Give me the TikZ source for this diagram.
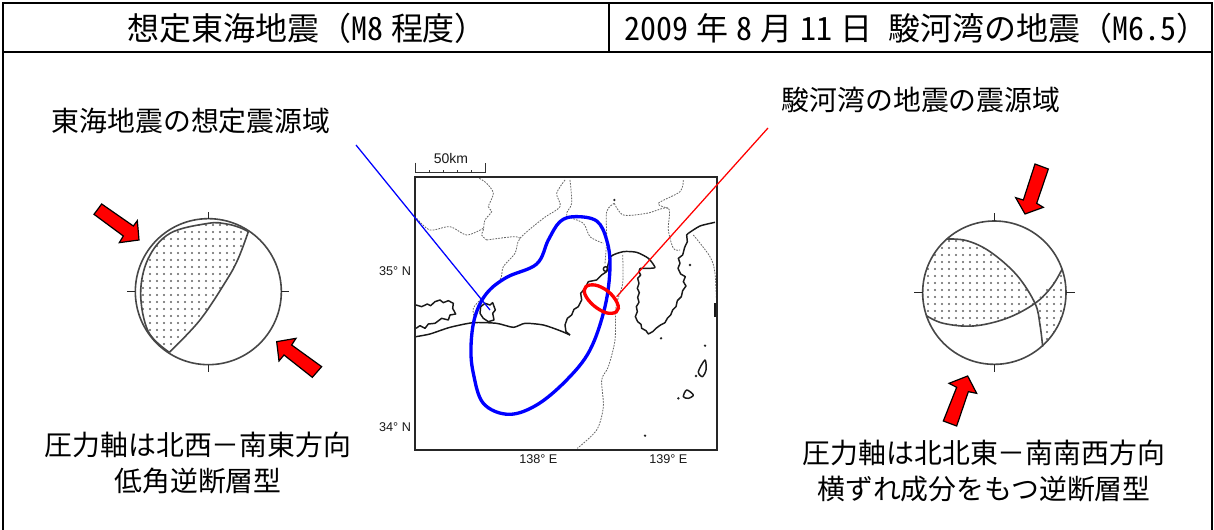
\documentclass[tikz,border=0pt]{standalone}
\usepackage{fontspec}
\setmainfont{Noto Sans CJK JP}
\newfontfamily\hw[RawFeature=+hwid]{Noto Sans CJK JP}
\newfontfamily\mapfont{Liberation Sans}
\newcommand{\gap}{\hspace{0.25em}}
\newcommand{\dotfield}[4]{\foreach \xx in {#1,...,#2}{\foreach \yy in {#3,...,#4}{\fill[dotgray] (\xx*21,\yy*21) circle (3.1);}}}
\definecolor{dotgray}{gray}{0.38}
\tikzset{
  px/.style={x=0.75pt,y=-0.75pt},
  zoomA/.style={shift={(340,140)},x=0.25pt,y=-0.25pt},
  frameline/.style={draw=black,line width=1.7pt},
  headtext/.style={font=\fontsize{24}{28}\selectfont,inner sep=0pt},
  bodytext/.style={font=\fontsize{20.9}{26.6}\selectfont,inner sep=0pt,align=center},
  maplabel/.style={font=\mapfont\fontsize{9.5}{10}\selectfont,inner sep=0pt,text=black!90},
  border/.style={draw=black!60,line width=0.6pt,dash pattern=on 1.3pt off 0.9pt},
  coast/.style={draw=black!90,line width=1.1pt,line join=round},
  ballline/.style={draw=black!72,line width=1.2pt},
  tick/.style={draw=black!85,line width=1.1pt},
  pressarrow/.style={draw=black,fill=red,line width=0.9pt,line join=miter},
  zone/.style={line width=2.5pt},
}
\begin{document}
\begin{tikzpicture}[px]
\useasboundingbox (0,0) rectangle (1214,530);
\fill[white] (0,0) rectangle (1214,530);
% frame
\draw[frameline] (3,530) -- (3,3) -- (1212,3) -- (1212,530);
\draw[frameline] (3,52) -- (1212,52);
\draw[frameline] (609,3) -- (609,52);
% headings
\node[headtext] (headL) at (307,28) {想定東海地震（{\hw M8}\gap 程度）};
\node[headtext] (headR) at (916,28) {{\hw 2009}\gap 年\gap{\hw 8}\gap 月\gap{\hw 11}\gap 日\gap\gap 駿河湾の地震（{\hw M6.5}）};
\node[bodytext] (tokai) at (191,121) {東海地震の想定震源域};
\node[bodytext] (suruga) at (921,100) {駿河湾の地震の震源域};
\node[bodytext] (captL) at (198,463) {圧力軸は北西－南東方向\\低角逆断層型};
\node[bodytext] (captR) at (984,471) {圧力軸は北北東－南南西方向\\横ずれ成分をもつ逆断層型};

% map
\begin{scope}[zoomA]
  \node[maplabel,font=\mapfont\fontsize{10.5}{11}\selectfont] (km) at (333,55) {50km};
  \node[maplabel] (lat35) at (165,393) {35° N};
  \node[maplabel] (lat34) at (165,860) {34° N};
  \node[maplabel] (lon138) at (595,957) {138° E};
  \node[maplabel] (lon139) at (985,957) {139° E};
  \draw[draw=black!80,line width=0.8pt] (227,68) -- (227,97) -- (437,97) -- (437,68);
  \foreach \t in {269,311,353,395} \draw[draw=black!80,line width=0.6pt] (\t,97) -- (\t,90);
  % prefectural borders and trough
  \draw[border] plot[smooth] coordinates {(418,115) (440,130) (460,160) (445,200) (455,215) (435,240) (430,270) (425,285) (440,300)};
  \draw[border] plot[smooth] coordinates {(230,235) (270,270) (330,260) (380,285) (430,265)};
  \draw[border] plot[smooth] coordinates {(440,300) (520,290) (540,295)};
  \draw[border] plot[smooth] coordinates {(675,120) (650,160) (660,200) (610,235) (540,295) (525,340) (490,380) (480,420) (430,470) (400,505) (405,540)};
  \draw[border] plot[smooth] coordinates {(690,120) (695,190) (680,225) (730,250) (750,290) (790,310)};
  \draw[border] plot[smooth] coordinates {(823,190) (800,215) (800,300) (795,370)};
  \draw[border] plot[smooth] coordinates {(823,190) (850,225) (920,220) (985,205) (985,270) (1000,325) (1020,330)};
  \draw[border] plot[smooth] coordinates {(985,205) (955,190) (1020,155) (1030,120)};
  \draw[border] plot[smooth] coordinates {(1060,285) (1110,350) (1125,400) (1130,500)};
  \draw[border] plot[smooth] coordinates {(848,345) (848,430) (828,500) (825,600) (805,680) (785,720) (790,800) (770,870) (712,925)};
  % coast
  \draw[coast] plot[smooth,tension=0.4] coordinates {(228,590) (270,582) (330,562) (400,548) (470,550) (520,562) (555,550) (610,555) (660,572) (690,585)};
  \draw[coast] plot coordinates {(690,585) (678,575) (675,555) (682,535) (695,525) (702,508) (715,500) (725,480) (722,460) (735,445) (745,425) (770,420) (785,405) (800,395)};
  \draw[coast] plot[smooth,tension=0.4] coordinates {(800,395) (812,350) (850,335) (890,337) (925,355) (945,382) (925,385) (900,385)};
  \draw[coast] plot coordinates {(900,385) (897,395) (902,405) (893,415) (897,430) (892,445) (898,458) (893,472) (897,487) (889,500) (892,515) (886,530) (893,545) (903,553) (905,565) (918,572) (925,582) (938,575) (948,565) (960,556) (975,548) (982,535) (992,525) (998,510) (1008,500) (1012,482) (1024,470) (1028,452) (1038,438) (1030,425) (1036,410) (1022,402) (1014,385) (1020,370) (1015,355) (1028,345) (1034,322) (1042,305) (1040,285) (1045,280)};
  \draw[coast] plot[smooth,tension=0.4] coordinates {(1045,280) (1080,258) (1125,247)};
  \draw[coast] plot coordinates {(228,495) (245,500) (262,492) (272,497) (285,485) (300,480) (310,488) (325,482) (340,490) (338,505) (347,522) (330,525) (325,540) (305,535) (285,550) (265,552) (255,565) (240,557) (228,565)};
  \draw[coast] (422,500) -- (435,490) -- (450,495) -- (458,488) -- (466,510) -- (458,520) -- (462,540) -- (445,545) -- (430,535) -- (420,520) -- cycle;
  \draw[coast] (797,387) circle (7);
  \draw[coast] plot[smooth cycle,tension=0.5] coordinates {(1095,660) (1098,690) (1087,710) (1075,695)};
  \draw[coast] plot[smooth cycle,tension=0.5] coordinates {(1040,750) (1060,765) (1045,775) (1030,770)};
  \draw[coast] (1125,490) -- (1125,530);
  \foreach \p in {(823,180),(1095,617),(1068,708),(1050,375),(915,887),(963,595),(1015,775)} \fill[black!85] \p circle (4);
  % map frame
  \draw[draw=black!85,line width=1.5pt] (226,110) rectangle (1132,930);
  % source regions
  \draw[blue,zone] plot[smooth cycle,tension=0.6] coordinates {(705,230) (770,243) (800,300) (810,380) (795,500) (750,630) (680,720) (590,795) (505,823) (430,790) (400,700) (393,620) (405,530) (440,460) (500,412) (590,372) (625,300) (660,245)};
  \draw[red,zone] plot[smooth cycle,tension=0.7] coordinates {(733,450) (750,435) (785,442) (820,470) (835,505) (815,520) (780,510) (745,480)};
  \coordinate (blueStart) at (48,15);
  \coordinate (blueEnd) at (450,510);
  \coordinate (redStart) at (1284,-36);
  \coordinate (redEnd) at (830,470);
  \draw[blue,line width=0.95pt] (blueStart) -- (blueEnd);
  \draw[red,line width=0.95pt] (redStart) -- (redEnd);
\end{scope}

% left mechanism
\begin{scope}[shift={(80,190)},x=0.25pt,y=-0.25pt]
  \begin{scope}
    \clip plot[smooth,tension=0.6] coordinates {(505,125) (475,205) (440,270) (360,390) (268,487)} -- plot[smooth,tension=0.6] coordinates {(268,487) (205,425) (182,310) (205,205) (270,130) (385,100) (440,102) (480,113) (505,125)} -- cycle;
    \dotfield{9}{24}{5}{23}
  \end{scope}
  \draw[ballline] (385,305) circle (219);
  \draw[ballline] plot[smooth,tension=0.6] coordinates {(505,125) (475,205) (440,270) (360,390) (268,487)};
  \draw[ballline] plot[smooth,tension=0.6] coordinates {(268,487) (205,425) (182,310) (205,205) (270,130) (385,100) (440,102) (480,113) (505,125)};
  \draw[tick] (385,86) -- (385,66) (385,524) -- (385,546) (166,305) -- (142,305) (604,305) -- (626,305);
  \draw[pressarrow] (65,42) -- (42,73) -- (130,138) -- (118,158) -- (177,150) -- (172,92) -- (160,108) -- cycle;
  \draw[pressarrow] (725,530) -- (697,562) -- (612,495) -- (597,513) -- (590,455) -- (648,445) -- (635,465) -- cycle;
\end{scope}

% right mechanism
\begin{scope}[shift={(900,150)},x=0.25pt,y=-0.25pt]
  \begin{scope}
    \clip (283,428) circle (215);
    \begin{scope}
      \clip plot[smooth,tension=0.6] coordinates {(140,267) (200,272) (270,305) (350,375) (405,460)} -- plot[smooth,tension=0.6] coordinates {(405,460) (320,505) (220,528) (130,520) (79,497)} -- (30,490) -- (30,230) -- (140,230) -- cycle;
      \dotfield{3}{19}{13}{25}
    \end{scope}
    \begin{scope}
      \clip plot[smooth,tension=0.6] coordinates {(405,460) (420,525) (428,590)} -- (520,600) -- (520,340) -- (486,358) -- cycle;
      \dotfield{19}{24}{18}{28}
    \end{scope}
  \end{scope}
  \draw[ballline] (283,428) circle (215);
  \draw[ballline] plot[smooth,tension=0.6] coordinates {(140,267) (200,272) (270,305) (350,375) (405,460) (420,525) (428,590)};
  \draw[ballline] plot[smooth,tension=0.6] coordinates {(79,497) (130,520) (220,528) (320,505) (405,460) (455,410) (486,358)};
  \draw[tick] (283,213) -- (283,190) (283,643) -- (283,667) (68,428) -- (42,428) (498,428) -- (524,428);
  \draw[pressarrow] (405,42) -- (445,57) -- (410,160) -- (430,172) -- (375,192) -- (347,143) -- (370,150) -- cycle;
  \draw[pressarrow] (130,813) -- (170,828) -- (205,725) -- (230,730) -- (203,678) -- (147,700) -- (170,712) -- cycle;
\end{scope}
\end{tikzpicture}
\end{document}
